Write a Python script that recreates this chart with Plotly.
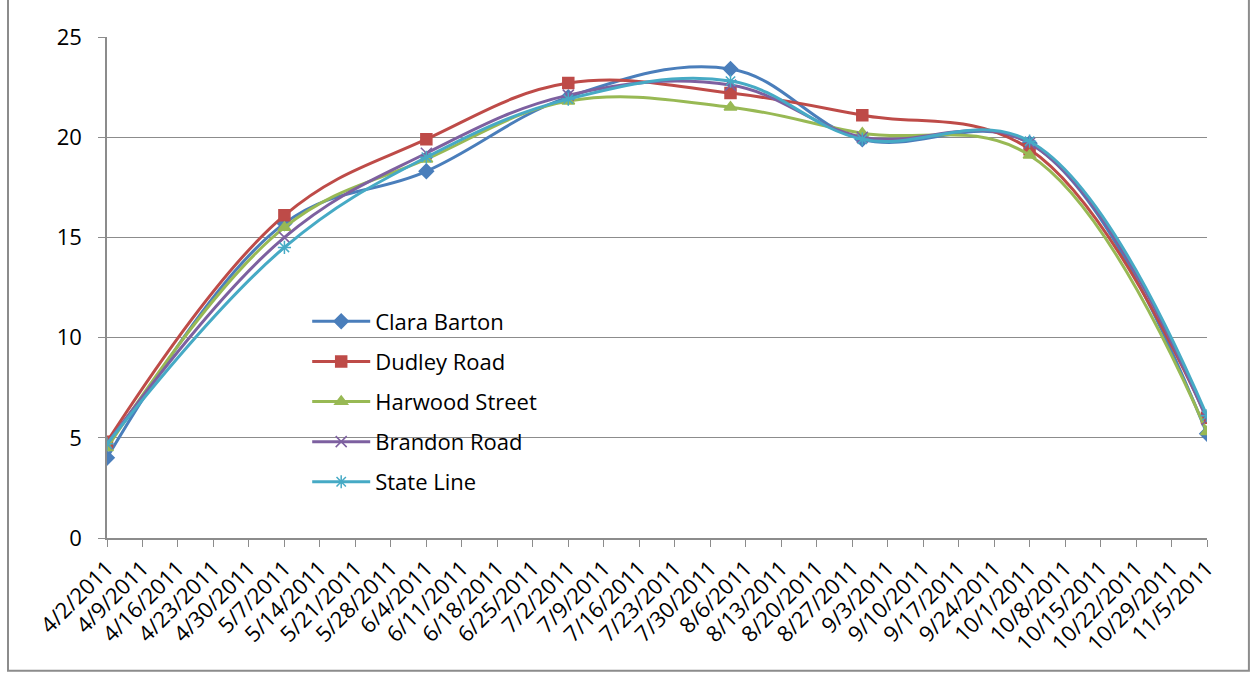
import datetime as _dt
import plotly.graph_objects as go

# Sampling dates (shared by all sites)
dates = ["2011-04-02", "2011-05-07", "2011-06-04", "2011-07-02",
         "2011-08-03", "2011-08-29", "2011-10-01", "2011-11-05"]

# Readings per site
clara_barton = [4.0, 15.7, 18.3, 22.0, 23.4, 19.9, 19.7, 5.2]
dudley_road = [4.8, 16.1, 19.9, 22.7, 22.2, 21.1, 19.4, 6.0]
harwood_street = [4.5, 15.5, 18.9, 21.8, 21.5, 20.2, 19.1, 5.3]
brandon_road = [4.7, 15.0, 19.2, 22.1, 22.6, 20.0, 19.7, 5.9]
state_line = [4.7, 14.5, 19.0, 21.9, 22.8, 19.9, 19.8, 6.1]

series = [
    ("Clara Barton", clara_barton, "#4A7EBB", "diamond", 11),
    ("Dudley Road", dudley_road, "#BE4B48", "square", 11),
    ("Harwood Street", harwood_street, "#98B954", "triangle-up", 11),
    ("Brandon Road", brandon_road, "#7D60A0", "x-thin-open", 11),
    ("State Line", state_line, "#46AAC5", "asterisk-open", 11),
]

# Weekly tick dates from 4/2 to 11/5
start = _dt.date(2011, 4, 2)
tick_dates = [start + _dt.timedelta(days=7 * i) for i in range(32)]
tick_text = [f"{d.month}/{d.day}/{d.year}" for d in tick_dates]

fig = go.Figure()
for name, vals, color, sym, size in series:
    fig.add_trace(go.Scatter(
        x=dates, y=vals, name=name, mode="lines+markers",
        legendgroup=name,
        line=dict(color=color, width=3, shape="spline", smoothing=1.1),
        marker=dict(symbol=sym, size=size, color=color,
                    line=dict(color=color, width=1.5)),
    ))

fig.update_layout(
    width=1256, height=681,
    margin=dict(l=107, r=49, t=37, b=143),
    paper_bgcolor="white", plot_bgcolor="white",
    font=dict(family="Open Sans, sans-serif", size=22, color="#000000"),
    showlegend=True,
    legend=dict(
        x=0.182, y=0.474, xanchor="left", yanchor="top",
        bgcolor="rgba(0,0,0,0)", font=dict(size=22),
        itemwidth=58, tracegroupgap=8.5,
    ),
    xaxis=dict(
        type="date",
        range=["2011-04-02", "2011-11-05"],
        tickvals=[d.isoformat() for d in tick_dates],
        ticktext=tick_text,
        tickangle=-45,
        ticks="outside", ticklen=7, tickcolor="#8c8c8c",
        showline=True, linecolor="#8c8c8c", linewidth=1.5,
        showgrid=False, zeroline=False,
        tickfont=dict(size=22),
    ),
    yaxis=dict(
        range=[0, 25], dtick=5,
        ticks="outside", ticklen=7, tickcolor="#8c8c8c",
        ticklabelstandoff=12,
        showline=True, linecolor="#8c8c8c", linewidth=1.5,
        showgrid=True, gridcolor="#8c8c8c", gridwidth=1,
        zeroline=False,
        tickfont=dict(size=22),
    ),
)

# Chart frame
fig.add_shape(type="rect", xref="paper", yref="paper",
              x0=-0.09, x1=1.0381, y0=-0.265, y1=1.1,
              line=dict(color="#8c8c8c", width=2), layer="below")

fig.write_html("out.html")
